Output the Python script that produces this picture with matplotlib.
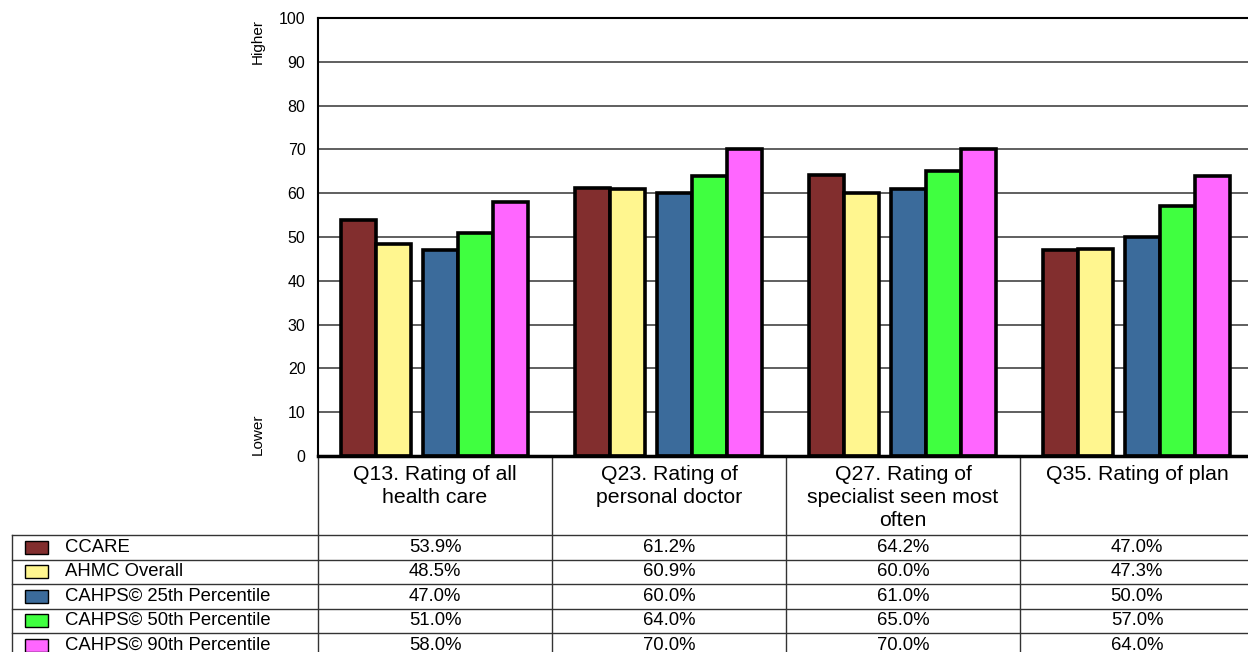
import numpy as np
import matplotlib.pyplot as plt

plt.rcParams['font.family'] = ['Liberation Sans', 'DejaVu Sans']

categories = ["Q13. Rating of all\nhealth care",
              "Q23. Rating of\npersonal doctor",
              "Q27. Rating of\nspecialist seen most\noften",
              "Q35. Rating of plan"]
series = ["CCARE", "AHMC Overall", "CAHPS\u00a9 25th Percentile",
          "CAHPS\u00a9 50th Percentile", "CAHPS\u00a9 90th Percentile"]
ccare = [53.9, 61.2, 64.2, 47.0]
ahmc = [48.5, 60.9, 60.0, 47.3]
p25 = [47.0, 60.0, 61.0, 50.0]
p50 = [51.0, 64.0, 65.0, 57.0]
p90 = [58.0, 70.0, 70.0, 64.0]
yticks = list(range(0, 101, 10))

values = [ccare, ahmc, p25, p50, p90]
colors = ["#822e2e", "#fff68f", "#3b6b9b", "#40ff40", "#ff66ff"]
offsets = [0.173, 0.323, 0.524, 0.674, 0.824]
bar_w = 0.15

W, H = 1248, 652
fig = plt.figure(figsize=(W / 100, H / 100), dpi=100)

# pixel layout of the plot area
x0, col_w, y_top, y_bot = 318, 234, 18, 456
ax = fig.add_axes([x0 / W, (H - y_bot) / H, 4 * col_w / W, (y_bot - y_top) / H])
x = np.arange(len(categories))
for vals, c, off in zip(values, colors, offsets):
    ax.bar(x + off, vals, bar_w, color=c, edgecolor="black", linewidth=2.6, zorder=3)
ax.set_xlim(0, 4)
ax.set_ylim(0, 100)
ax.set_yticks(yticks)
ax.set_xticks([])
ax.tick_params(axis="y", length=0, pad=9, labelsize=11.5)
ax.yaxis.grid(True, color="#444444", linewidth=1.2, zorder=0)
ax.spines["right"].set_visible(False)
ax.spines["top"].set_linewidth(1.5)
ax.spines["left"].set_linewidth(1.5)
ax.spines["bottom"].set_linewidth(2.5)
ax.spines["bottom"].set_zorder(4)

# overlay in pixel coordinates for the data table
ov = fig.add_axes([0, 0, 1, 1], zorder=-1)
ov.set_xlim(0, W)
ov.set_ylim(H, 0)
ov.axis("off")

ov.text(258, 42, "Higher", rotation=90, ha="center", va="center", fontsize=11)
ov.text(258, 434, "Lower", rotation=90, ha="center", va="center", fontsize=11)

lc = "#333333"
col_edges = [x0 + i * col_w for i in range(5)]
for cx in col_edges[:4]:
    ov.plot([cx, cx], [y_bot, H], color=lc, lw=1)
row_y = [535, 559.5, 584, 608.5, 633]
for ry in row_y:
    ov.plot([12, W], [ry, ry], color=lc, lw=1)
ov.plot([12, 12], [535, H], color=lc, lw=1)

for i, cat in enumerate(categories):
    cx = (col_edges[i] + col_edges[i + 1]) / 2
    ov.text(cx, 464.5, cat, ha="center", va="top", fontsize=15.3, linespacing=1.27)

for r, (name, vals, c) in enumerate(zip(series, values, colors)):
    cy = row_y[r] + 12.2
    ov.add_patch(plt.Rectangle((25, cy - 6.5), 23, 13, facecolor=c, edgecolor="black", lw=1))
    ov.text(65, cy, name, ha="left", va="center", fontsize=13.3)
    for i, v in enumerate(vals):
        cx = (col_edges[i] + col_edges[i + 1]) / 2
        ov.text(cx, cy, f"{v:.1f}%", ha="center", va="center", fontsize=13.3)

fig.savefig("out.png", dpi=100)
